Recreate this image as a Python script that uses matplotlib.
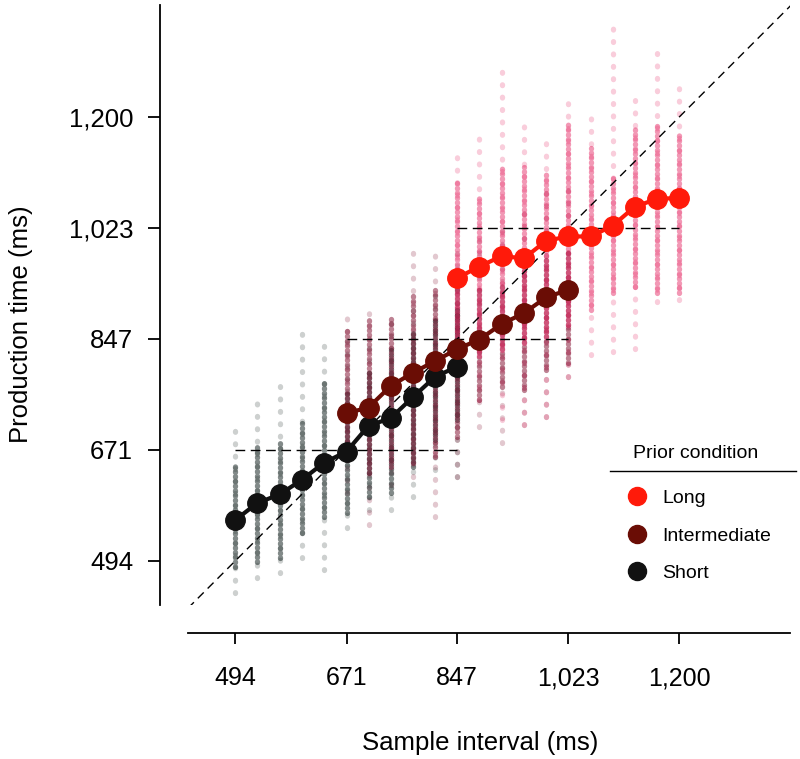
import matplotlib
matplotlib.use('Agg')
import matplotlib.pyplot as plt
from matplotlib.lines import Line2D

plt.rcParams['font.family'] = ['Liberation Sans', 'DejaVu Sans']

# sample intervals (ms) for each prior condition
short_x = [494, 529, 565, 600, 635, 671, 706, 741, 776, 812, 847]
inter_x = [671, 706, 741, 776, 812, 847, 882, 918, 953, 988, 1023]
long_x = [847, 882, 918, 953, 988, 1023, 1059, 1094, 1129, 1165, 1200]

# mean production times (ms)
short_mean = [559, 586, 600, 623, 650, 668, 709, 721, 754, 787, 803]
inter_mean = [729, 738, 772, 793, 812, 831, 846, 871, 888, 913, 925]
long_mean = [944, 962, 979, 975, 1003, 1010, 1010, 1027, 1057, 1070, 1071]

# spread of single trials: outer range and dense range per interval
short_min = [443, 467, 475, 499, 480, 546, 575, 575, 596, 639, 628]
short_lo = [484, 493, 499, 538, 564, 570, 596, 602, 643, 686, 718]
short_hi = [647, 676, 686, 713, 782, 760, 800, 830, 860, 880, 900]
short_max = [702, 749, 787, 856, 841, 860, 840, 890, 900, 915, 925]

inter_min = [602, 551, 615, 628, 564, 628, 707, 682, 710, 723, 787]
inter_lo = [654, 634, 643, 650, 660, 691, 750, 771, 766, 798, 809]
inter_hi = [861, 880, 880, 920, 925, 945, 925, 936, 961, 977, 988]
inter_max = [893, 902, 888, 988, 992, 1000, 1010, 1030, 1050, 1080, 1100]

long_min = [800, 750, 718, 710, 723, 787, 822, 826, 831, 906, 909]
long_lo = [830, 820, 830, 840, 850, 870, 893, 920, 930, 920, 920]
long_hi = [1100, 1076, 1119, 1120, 1112, 1190, 1150, 1104, 1184, 1192, 1176]
long_max = [1147, 1166, 1289, 1200, 1166, 1230, 1216, 1349, 1232, 1314, 1251]

ticks = [494, 671, 847, 1023, 1200]
tick_labels = ['494', '671', '847', '1,023', '1,200']

fig = plt.figure(figsize=(8, 7.59), dpi=100)
ax = fig.add_axes([0.235, 0.2029, 0.7525, 0.7905])

conds = [
    (short_x, short_min, short_lo, short_hi, short_max, '#1c2a28', 0.55),
    (inter_x, inter_min, inter_lo, inter_hi, inter_max, '#7e0628', 0.5),
    (long_x, long_min, long_lo, long_hi, long_max, '#e41c5c', 0.45),
]
for xs, mn, lo, hi, mx, c, a in conds:
    for i, x in enumerate(xs):
        ax.plot([x, x], [mn[i], mx[i]], color=c, alpha=0.22, lw=3.8,
                dashes=(0.15, 2.2), dash_capstyle='round', zorder=1)
        ax.plot([x, x], [lo[i], hi[i]], color=c, alpha=a, lw=3.8,
                dashes=(0.15, 0.75), dash_capstyle='round', zorder=2)

# identity line and prior means
ax.plot([419, 1378], [419, 1378], color='black', lw=1, dashes=(6, 4), zorder=3)
for xs in [short_x, inter_x, long_x]:
    m = sum(xs) / len(xs)
    ax.plot([xs[0], xs[-1]], [m, m], color='black', lw=1, dashes=(7, 4), zorder=3)

ax.plot(short_x, short_mean, color='#111111', lw=3, marker='o', ms=14, zorder=4)
ax.plot(inter_x, inter_mean, color='#6a0d05', lw=3, marker='o', ms=14, zorder=4)
ax.plot(long_x, long_mean, color='#ff1a0a', lw=3, marker='o', ms=14, zorder=4)

ax.set_xlim(419, 1376)
ax.set_ylim(424, 1378)
for s in ['top', 'right']:
    ax.spines[s].set_visible(False)
ax.spines['left'].set_position(('outward', 20))
ax.spines['bottom'].set_position(('outward', 20))
ax.spines['left'].set_linewidth(1.3)
ax.spines['bottom'].set_linewidth(1.3)

ax.set_xticks(ticks)
ax.set_xticklabels(tick_labels)
ax.set_yticks(ticks)
ax.set_yticklabels(tick_labels)
ax.tick_params(axis='x', length=8, width=1.3, pad=16, labelsize=18)
ax.tick_params(axis='y', length=8.5, width=1.3, pad=11, labelsize=18.5)

ax.set_xlabel('Sample interval (ms)', fontsize=18.5)
ax.set_ylabel('Production time (ms)', fontsize=18.5)
ax.xaxis.set_label_coords(0.485, -0.21)
ax.yaxis.set_label_coords(-0.257, 0.468)

handles = [
    Line2D([], [], color='#ff1a0a', marker='o', ls='', ms=13),
    Line2D([], [], color='#6a0d05', marker='o', ls='', ms=13),
    Line2D([], [], color='#111111', marker='o', ls='', ms=13),
]
fig.legend(handles, ['Long', 'Intermediate', 'Short'],
           loc='upper left', bbox_to_anchor=(0.784, 0.355), frameon=False,
           fontsize=14, borderpad=0, borderaxespad=0,
           handlelength=1, handletextpad=0.79, labelspacing=1.02)
fig.text(0.87, (759 - 453) / 759, 'Prior condition', fontsize=14,
         ha='center', va='center')
fig.add_artist(Line2D([610 / 800, 796 / 800], [(759 - 471) / 759] * 2,
                      color='black', lw=1))

fig.savefig('out.png', dpi=100)
